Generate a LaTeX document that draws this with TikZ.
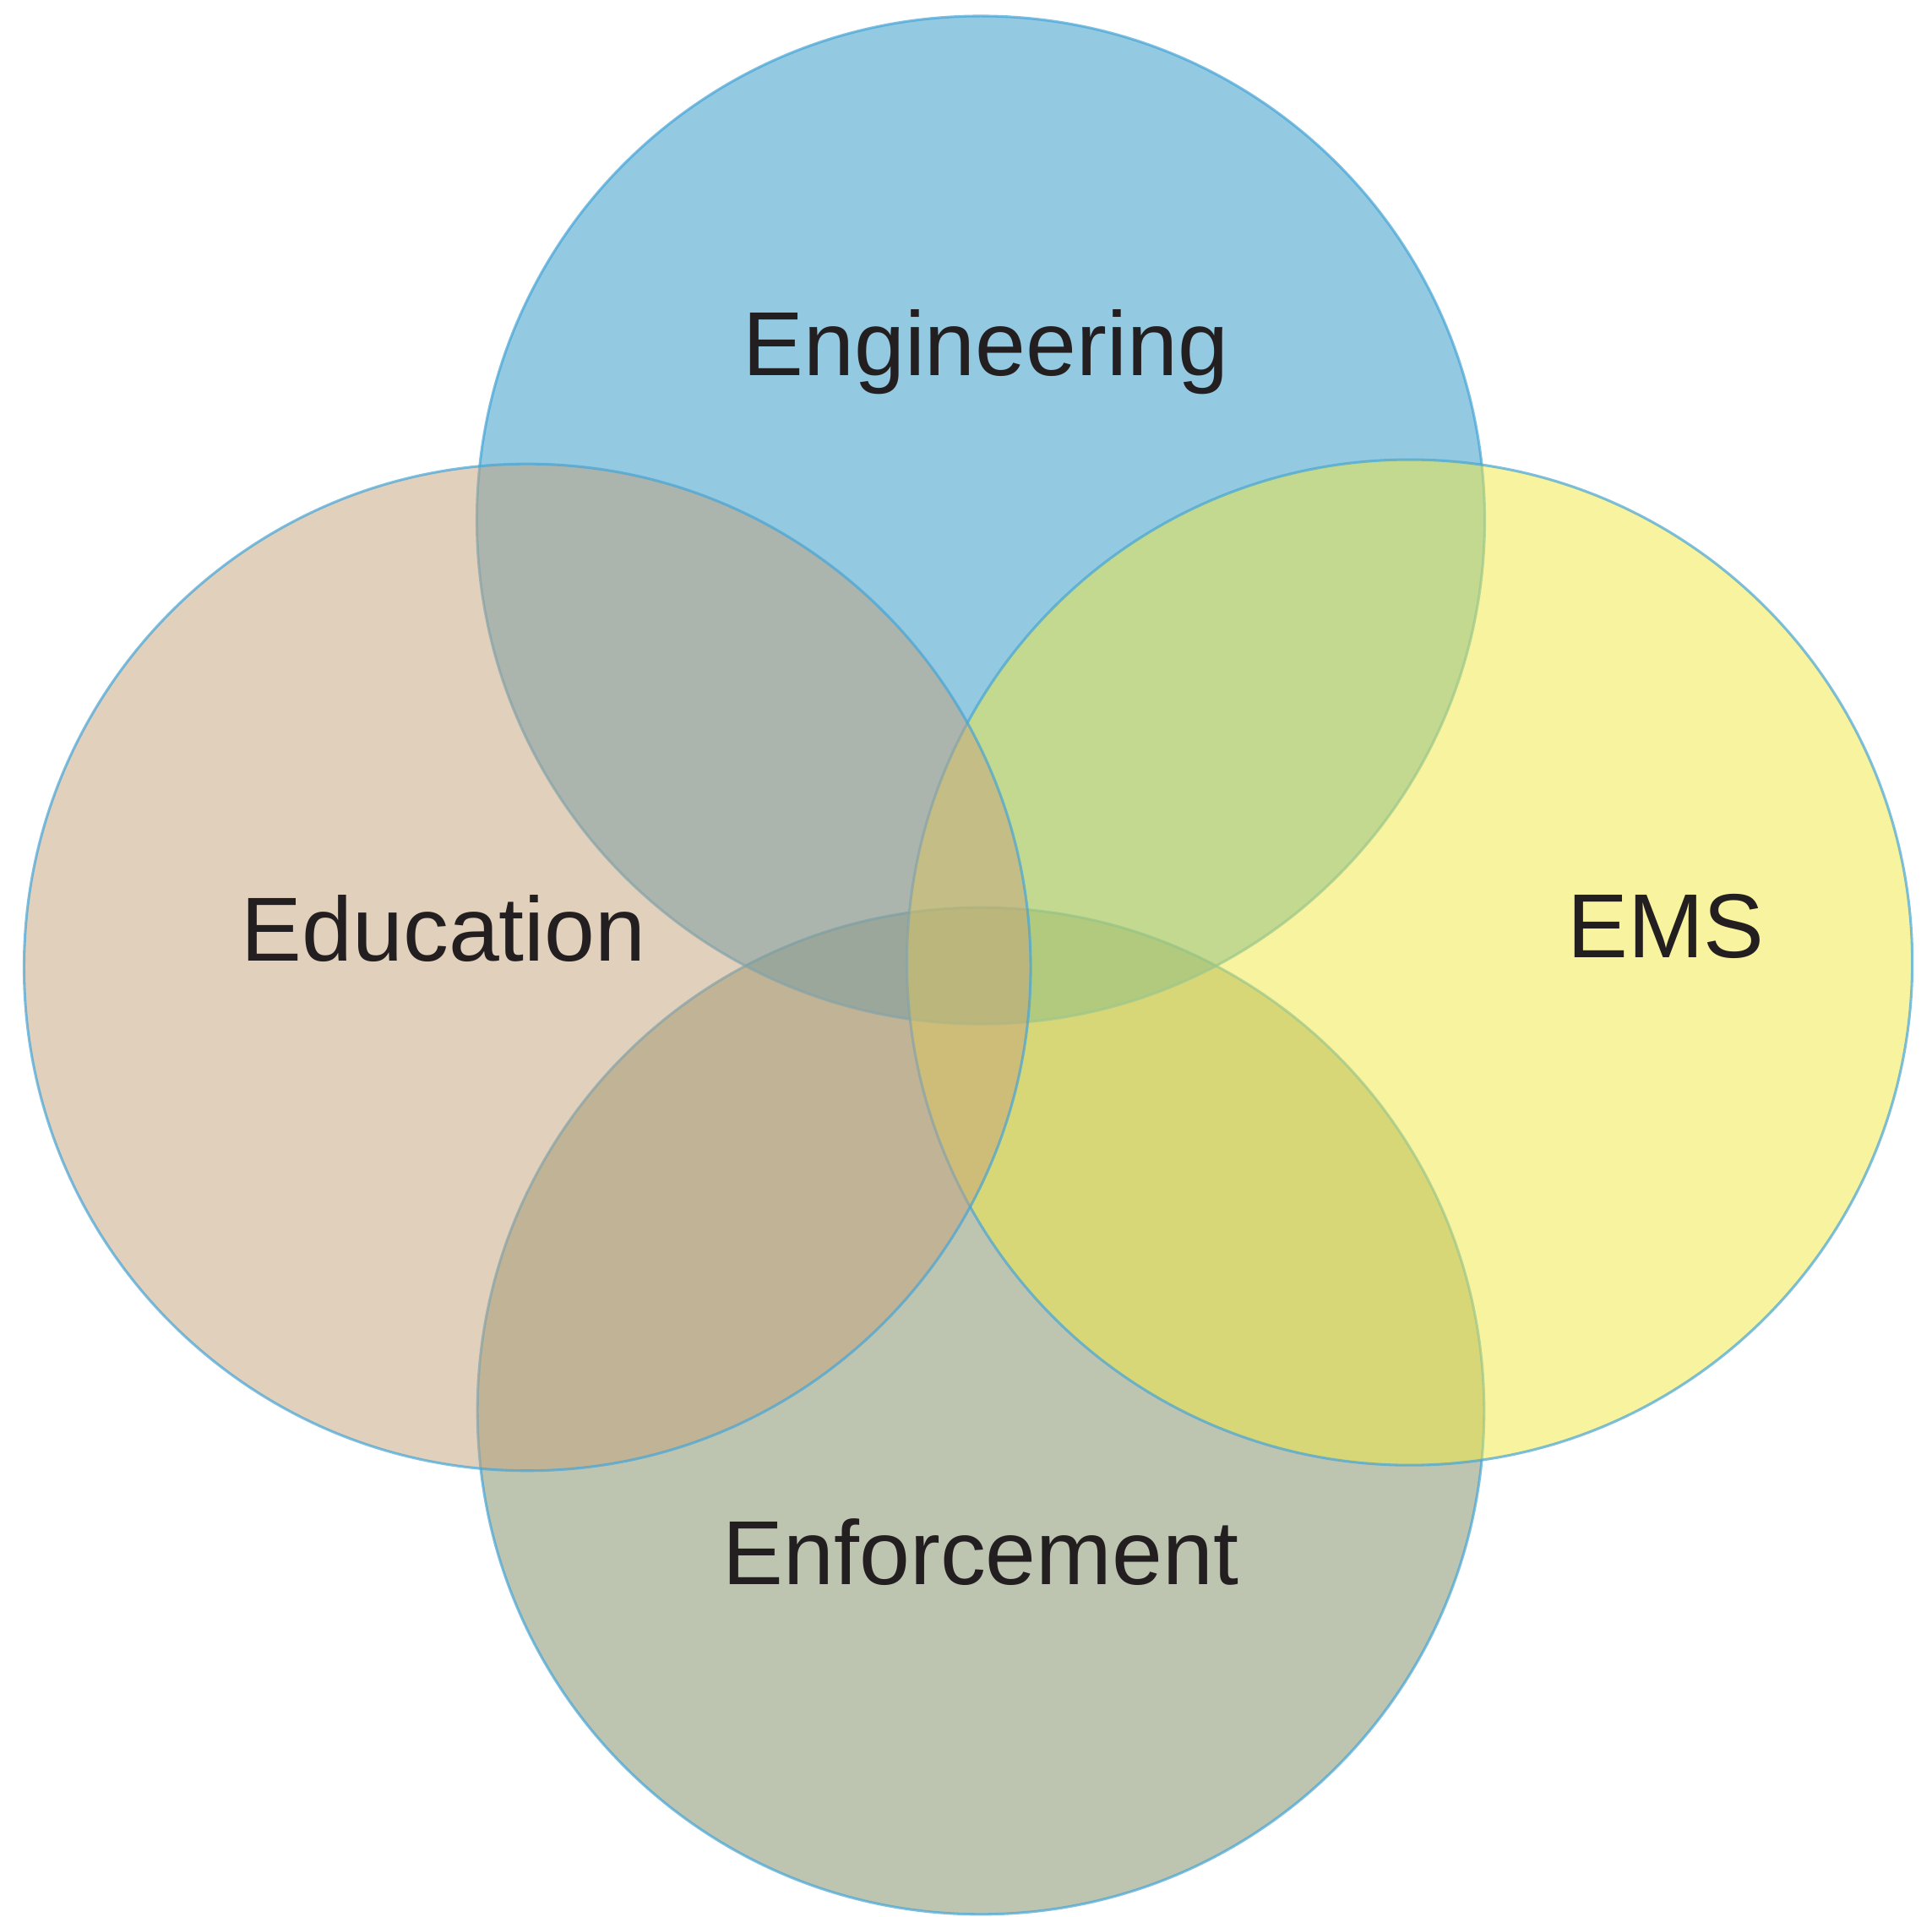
\documentclass[tikz,border=0pt]{standalone}
\usepackage{fontspec}
\setmainfont{Liberation Sans}
\usepackage{tikz}

\definecolor{engblue}{RGB}{41,149,197}
\definecolor{edutan}{RGB}{197,163,123}
\definecolor{emsyellow}{RGB}{243,233,65}
\definecolor{enfgreen}{RGB}{125,141,101}
\definecolor{rimblue}{RGB}{70,165,215}
\definecolor{labelink}{RGB}{35,31,32}

\tikzset{
  venn/.style={draw=rimblue,draw opacity=0.7,line width=0.6pt,fill opacity=0.5},
  venntext/.style={anchor=base,text=labelink,font=\fontsize{21}{25}\selectfont}
}

\begin{document}
\begin{tikzpicture}[x=0.1mm,y=-0.1mm]
  \useasboundingbox (0,0) rectangle (1568,1555);

  \fill[white] (0,0) rectangle (1568,1555);
  \draw[venn,fill=enfgreen] (796,1145) circle[radius=40.85mm];
  \draw[venn,fill=engblue] (796,422) circle[radius=40.9mm];
  \draw[venn,fill=emsyellow] (1144,781) circle[radius=40.8mm];
  \draw[venn,fill=edutan] (428,785) circle[radius=40.85mm];

  \node[venntext] (engineering) at (800,305) {Engineering};
  \node[venntext] (education) at (360,780) {Education};
  \node[venntext] (ems) at (1352,777) {EMS};
  \node[venntext] (enforcement) at (796,1286) {Enforcement};
\end{tikzpicture}
\end{document}
